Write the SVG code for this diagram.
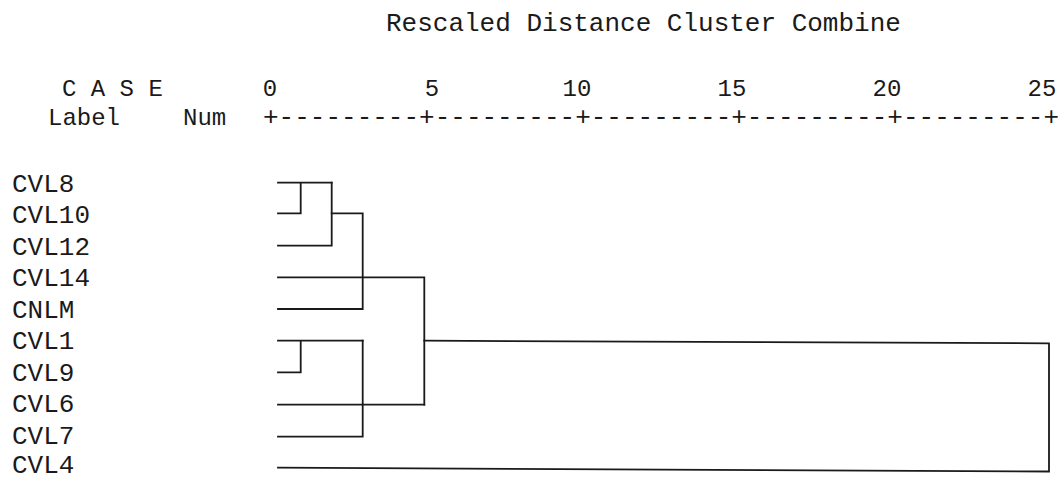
<svg xmlns="http://www.w3.org/2000/svg" width="1063" height="477" viewBox="0 0 1063 477">
  <style>
    .t { font-family: "Liberation Mono", "DejaVu Sans Mono", monospace; font-size: 26px; fill: #1a1a1a; }
    .h { font-size: 24px; }
    .c { text-anchor: middle; }
    .link { fill: none; stroke: #1a1a1a; stroke-width: 1.8; stroke-linecap: square; }
  </style>
  <rect width="1063" height="477" fill="#ffffff"/>

  <!-- heading and distance scale -->
  <g id="header">
    <text class="t" x="386" y="31">Rescaled Distance Cluster Combine</text>
    <text class="t h" x="62" y="96">C A S E</text>
    <text class="t h c" x="270" y="96">0</text>
    <text class="t h c" x="432" y="96">5</text>
    <text class="t h c" x="577" y="96">10</text>
    <text class="t h c" x="732" y="96">15</text>
    <text class="t h c" x="887" y="96">20</text>
    <text class="t h c" x="1042" y="96">25</text>
    <text class="t h" x="48" y="125">Label</text>
    <text class="t h" x="183" y="125">Num</text>
    <text class="t" x="263" y="125" textLength="796" lengthAdjust="spacing">+---------+---------+---------+---------+---------+</text>
  </g>

  <!-- case labels -->
  <g id="node-cvl8"><text class="t" x="12" y="191.5">CVL8</text></g>
  <g id="node-cvl10"><text class="t" x="12" y="223">CVL10</text></g>
  <g id="node-cvl12"><text class="t" x="12" y="254.5">CVL12</text></g>
  <g id="node-cvl14"><text class="t" x="12" y="286">CVL14</text></g>
  <g id="node-cnlm"><text class="t" x="12" y="317.5">CNLM</text></g>
  <g id="node-cvl1"><text class="t" x="12" y="349">CVL1</text></g>
  <g id="node-cvl9"><text class="t" x="12" y="380.5">CVL9</text></g>
  <g id="node-cvl6"><text class="t" x="12" y="412">CVL6</text></g>
  <g id="node-cvl7"><text class="t" x="12" y="443.5">CVL7</text></g>
  <g id="node-cvl4"><text class="t" x="12" y="473">CVL4</text></g>

  <!-- dendrogram links -->
  <g id="connectors">
    <!-- CVL8 + CVL10 -->
    <path class="link" d="M278 182.7 H331.7 M278 213.3 H300.7 M300.7 182.7 V213.3"/>
    <!-- + CVL12 -->
    <path class="link" d="M331.7 182.7 V245.7 M278 245.7 H331.7"/>
    <!-- + CNLM -->
    <path class="link" d="M331.7 213.3 H362.7 M362.7 213.3 V309 M278 309 H362.7"/>
    <!-- CVL14 joins at 5 -->
    <path class="link" d="M278 277.3 H424.3 M424.3 277.3 V404.7"/>
    <!-- CVL1 + CVL9 -->
    <path class="link" d="M278 340.7 H362.7 M278 372.3 H300.7 M300.7 340.7 V372.3"/>
    <!-- + CVL7 -->
    <path class="link" d="M362.7 340.7 V436.7 M278 436.7 H362.7"/>
    <!-- CVL6 -->
    <path class="link" d="M278 404.7 H424.3"/>
    <!-- final merge with CVL4 -->
    <path class="link" d="M424.3 340.7 L1049 343.3 V471.5 L278 467.7"/>
  </g>
</svg>
